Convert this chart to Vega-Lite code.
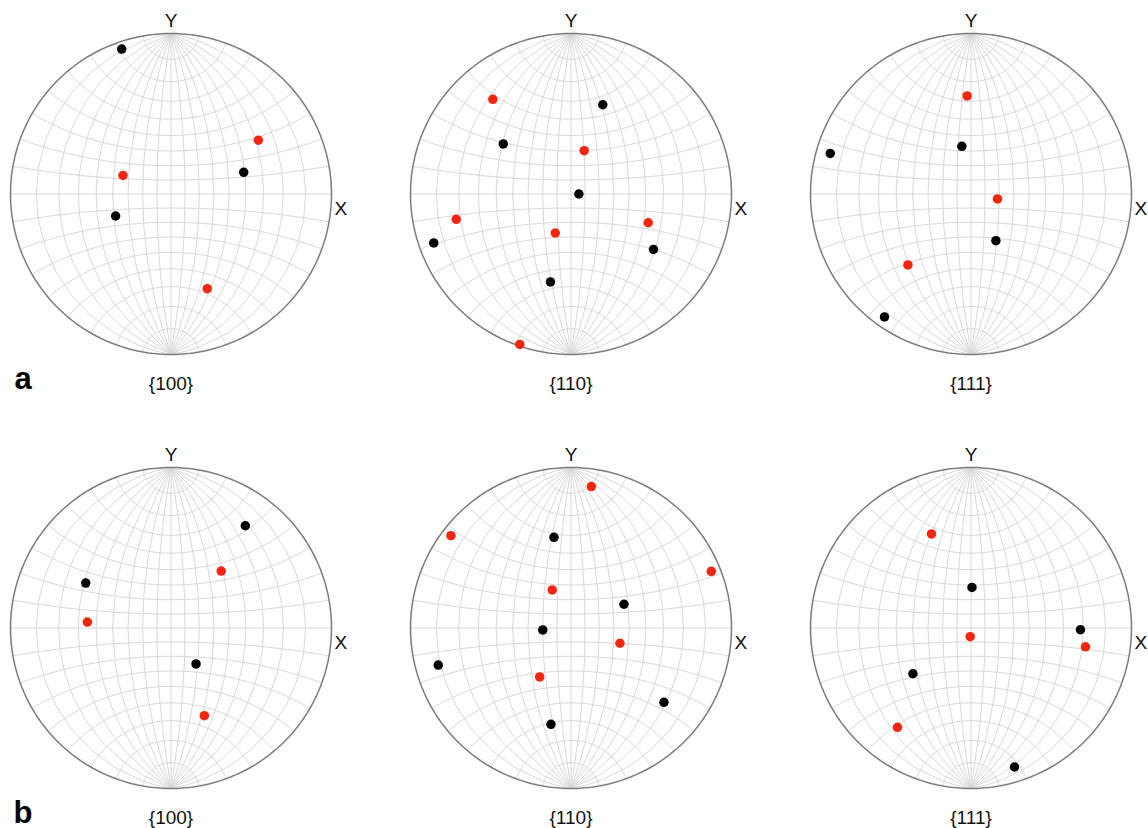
{
  "$schema": "https://vega.github.io/schema/vega-lite/v6.json",
  "background": "white",
  "padding": {"left": 7.5, "top": 11.5, "right": 0, "bottom": 0},
  "config": {"view": {"stroke": null}, "font": "Liberation Sans"},
  "datasets": {
    "points": [
      {"panel": "a100", "x": -0.307, "y": 0.903, "phase": "black"},
      {"panel": "a100", "x": 0.544, "y": 0.335, "phase": "red"},
      {"panel": "a100", "x": 0.453, "y": 0.135, "phase": "black"},
      {"panel": "a100", "x": -0.299, "y": 0.116, "phase": "red"},
      {"panel": "a100", "x": -0.345, "y": -0.137, "phase": "black"},
      {"panel": "a100", "x": 0.226, "y": -0.59, "phase": "red"},
      {"panel": "a110", "x": -0.487, "y": 0.59, "phase": "red"},
      {"panel": "a110", "x": 0.198, "y": 0.556, "phase": "black"},
      {"panel": "a110", "x": -0.422, "y": 0.312, "phase": "black"},
      {"panel": "a110", "x": 0.082, "y": 0.27, "phase": "red"},
      {"panel": "a110", "x": 0.049, "y": 0.0, "phase": "black"},
      {"panel": "a110", "x": -0.715, "y": -0.158, "phase": "red"},
      {"panel": "a110", "x": 0.481, "y": -0.179, "phase": "red"},
      {"panel": "a110", "x": -0.098, "y": -0.243, "phase": "red"},
      {"panel": "a110", "x": -0.855, "y": -0.305, "phase": "black"},
      {"panel": "a110", "x": 0.514, "y": -0.345, "phase": "black"},
      {"panel": "a110", "x": -0.128, "y": -0.548, "phase": "black"},
      {"panel": "a110", "x": -0.319, "y": -0.937, "phase": "red"},
      {"panel": "a111", "x": -0.024, "y": 0.611, "phase": "red"},
      {"panel": "a111", "x": -0.877, "y": 0.253, "phase": "black"},
      {"panel": "a111", "x": -0.057, "y": 0.297, "phase": "black"},
      {"panel": "a111", "x": 0.165, "y": -0.031, "phase": "red"},
      {"panel": "a111", "x": 0.155, "y": -0.291, "phase": "black"},
      {"panel": "a111", "x": -0.393, "y": -0.442, "phase": "red"},
      {"panel": "a111", "x": -0.539, "y": -0.766, "phase": "black"},
      {"panel": "b100", "x": 0.463, "y": 0.637, "phase": "black"},
      {"panel": "b100", "x": 0.313, "y": 0.355, "phase": "red"},
      {"panel": "b100", "x": -0.531, "y": 0.28, "phase": "black"},
      {"panel": "b100", "x": -0.521, "y": 0.037, "phase": "red"},
      {"panel": "b100", "x": 0.156, "y": -0.224, "phase": "black"},
      {"panel": "b100", "x": 0.208, "y": -0.546, "phase": "red"},
      {"panel": "b110", "x": 0.127, "y": 0.881, "phase": "red"},
      {"panel": "b110", "x": -0.748, "y": 0.575, "phase": "red"},
      {"panel": "b110", "x": -0.106, "y": 0.565, "phase": "black"},
      {"panel": "b110", "x": 0.874, "y": 0.353, "phase": "red"},
      {"panel": "b110", "x": -0.117, "y": 0.237, "phase": "red"},
      {"panel": "b110", "x": 0.33, "y": 0.148, "phase": "black"},
      {"panel": "b110", "x": -0.176, "y": -0.012, "phase": "black"},
      {"panel": "b110", "x": 0.305, "y": -0.095, "phase": "red"},
      {"panel": "b110", "x": -0.827, "y": -0.231, "phase": "black"},
      {"panel": "b110", "x": -0.195, "y": -0.305, "phase": "red"},
      {"panel": "b110", "x": 0.579, "y": -0.463, "phase": "black"},
      {"panel": "b110", "x": -0.125, "y": -0.6, "phase": "black"},
      {"panel": "b111", "x": -0.246, "y": 0.586, "phase": "red"},
      {"panel": "b111", "x": 0.006, "y": 0.253, "phase": "black"},
      {"panel": "b111", "x": 0.682, "y": -0.011, "phase": "black"},
      {"panel": "b111", "x": -0.005, "y": -0.054, "phase": "red"},
      {"panel": "b111", "x": 0.713, "y": -0.117, "phase": "red"},
      {"panel": "b111", "x": -0.362, "y": -0.285, "phase": "black"},
      {"panel": "b111", "x": -0.458, "y": -0.619, "phase": "red"},
      {"panel": "b111", "x": 0.271, "y": -0.866, "phase": "black"}
    ],
    "labels": [
      {"panel": "a100", "kind": "Y", "text": "Y", "x": 0, "y": 1},
      {"panel": "a100", "kind": "X", "text": "X", "x": 1, "y": 0},
      {"panel": "a100", "kind": "cap", "text": "{100}", "x": 0, "y": -1},
      {"panel": "a100", "kind": "row", "text": "a", "x": -1, "y": -1},
      {"panel": "a110", "kind": "Y", "text": "Y", "x": 0, "y": 1},
      {"panel": "a110", "kind": "X", "text": "X", "x": 1, "y": 0},
      {"panel": "a110", "kind": "cap", "text": "{110}", "x": 0, "y": -1},
      {"panel": "a111", "kind": "Y", "text": "Y", "x": 0, "y": 1},
      {"panel": "a111", "kind": "X", "text": "X", "x": 1, "y": 0},
      {"panel": "a111", "kind": "cap", "text": "{111}", "x": 0, "y": -1},
      {"panel": "b100", "kind": "Y", "text": "Y", "x": 0, "y": 1},
      {"panel": "b100", "kind": "X", "text": "X", "x": 1, "y": 0},
      {"panel": "b100", "kind": "cap", "text": "{100}", "x": 0, "y": -1},
      {"panel": "b100", "kind": "row", "text": "b", "x": -1, "y": -1},
      {"panel": "b110", "kind": "Y", "text": "Y", "x": 0, "y": 1},
      {"panel": "b110", "kind": "X", "text": "X", "x": 1, "y": 0},
      {"panel": "b110", "kind": "cap", "text": "{110}", "x": 0, "y": -1},
      {"panel": "b111", "kind": "Y", "text": "Y", "x": 0, "y": 1},
      {"panel": "b111", "kind": "X", "text": "X", "x": 1, "y": 0},
      {"panel": "b111", "kind": "cap", "text": "{111}", "x": 0, "y": -1}
    ]
  },
  "columns": 3,
  "spacing": {"row": 113, "column": 79},
  "bounds": "flush",
  "concat": [
    {"width": 321, "height": 321, "layer": [
      {"data": {"graticule": {"extentMinor": [[-180, -89.999], [180, 89.999]], "stepMinor": [10, 10]}}, "projection": {"type": "stereographic", "clipAngle": 90, "rotate": [0, 0, 0]}, "mark": {"type": "geoshape", "filled": false, "stroke": "#d8d8d8", "strokeWidth": 1}},
      {"data": {"sphere": true}, "projection": {"type": "stereographic", "clipAngle": 90, "rotate": [0, 0, 0]}, "mark": {"type": "geoshape", "filled": false, "stroke": "#7c7c7c", "strokeWidth": 1.5}},
      {"data": {"name": "points"}, "transform": [{"filter": "datum.panel === 'a100'"}], "mark": {"type": "circle", "size": 90, "opacity": 1}, "encoding": {"x": {"field": "x", "type": "quantitative", "scale": {"domain": [-1, 1], "nice": false, "zero": false}, "axis": null}, "y": {"field": "y", "type": "quantitative", "scale": {"domain": [-1, 1], "nice": false, "zero": false}, "axis": null}, "color": {"field": "phase", "type": "nominal", "scale": {"domain": ["black", "red"], "range": ["#000000", "#f5260f"]}, "legend": null}}},
      {"data": {"name": "labels"}, "transform": [{"filter": "datum.panel === 'a100' && datum.kind === 'Y'"}], "mark": {"type": "text", "align": "center", "baseline": "alphabetic", "dy": -7, "fontSize": 19, "color": "#111111"}, "encoding": {"x": {"field": "x", "type": "quantitative"}, "y": {"field": "y", "type": "quantitative"}, "text": {"field": "text"}}},
      {"data": {"name": "labels"}, "transform": [{"filter": "datum.panel === 'a100' && datum.kind === 'X'"}], "mark": {"type": "text", "align": "left", "baseline": "middle", "dx": 3, "dy": 15, "fontSize": 19, "color": "#111111"}, "encoding": {"x": {"field": "x", "type": "quantitative"}, "y": {"field": "y", "type": "quantitative"}, "text": {"field": "text"}}},
      {"data": {"name": "labels"}, "transform": [{"filter": "datum.panel === 'a100' && datum.kind === 'cap'"}], "mark": {"type": "text", "align": "center", "baseline": "alphabetic", "dy": 35, "fontSize": 19, "color": "#111111"}, "encoding": {"x": {"field": "x", "type": "quantitative"}, "y": {"field": "y", "type": "quantitative"}, "text": {"field": "text"}}},
      {"data": {"name": "labels"}, "transform": [{"filter": "datum.panel === 'a100' && datum.kind === 'row'"}], "mark": {"type": "text", "align": "left", "baseline": "alphabetic", "dx": 4, "dy": 34, "fontSize": 31, "fontWeight": "bold", "color": "#000000"}, "encoding": {"x": {"field": "x", "type": "quantitative"}, "y": {"field": "y", "type": "quantitative"}, "text": {"field": "text"}}}
    ]},
    {"width": 321, "height": 321, "layer": [
      {"data": {"graticule": {"extentMinor": [[-180, -89.999], [180, 89.999]], "stepMinor": [10, 10]}}, "projection": {"type": "stereographic", "clipAngle": 90, "rotate": [0, 0, 0]}, "mark": {"type": "geoshape", "filled": false, "stroke": "#d8d8d8", "strokeWidth": 1}},
      {"data": {"sphere": true}, "projection": {"type": "stereographic", "clipAngle": 90, "rotate": [0, 0, 0]}, "mark": {"type": "geoshape", "filled": false, "stroke": "#7c7c7c", "strokeWidth": 1.5}},
      {"data": {"name": "points"}, "transform": [{"filter": "datum.panel === 'a110'"}], "mark": {"type": "circle", "size": 90, "opacity": 1}, "encoding": {"x": {"field": "x", "type": "quantitative", "scale": {"domain": [-1, 1], "nice": false, "zero": false}, "axis": null}, "y": {"field": "y", "type": "quantitative", "scale": {"domain": [-1, 1], "nice": false, "zero": false}, "axis": null}, "color": {"field": "phase", "type": "nominal", "scale": {"domain": ["black", "red"], "range": ["#000000", "#f5260f"]}, "legend": null}}},
      {"data": {"name": "labels"}, "transform": [{"filter": "datum.panel === 'a110' && datum.kind === 'Y'"}], "mark": {"type": "text", "align": "center", "baseline": "alphabetic", "dy": -7, "fontSize": 19, "color": "#111111"}, "encoding": {"x": {"field": "x", "type": "quantitative"}, "y": {"field": "y", "type": "quantitative"}, "text": {"field": "text"}}},
      {"data": {"name": "labels"}, "transform": [{"filter": "datum.panel === 'a110' && datum.kind === 'X'"}], "mark": {"type": "text", "align": "left", "baseline": "middle", "dx": 3, "dy": 15, "fontSize": 19, "color": "#111111"}, "encoding": {"x": {"field": "x", "type": "quantitative"}, "y": {"field": "y", "type": "quantitative"}, "text": {"field": "text"}}},
      {"data": {"name": "labels"}, "transform": [{"filter": "datum.panel === 'a110' && datum.kind === 'cap'"}], "mark": {"type": "text", "align": "center", "baseline": "alphabetic", "dy": 35, "fontSize": 19, "color": "#111111"}, "encoding": {"x": {"field": "x", "type": "quantitative"}, "y": {"field": "y", "type": "quantitative"}, "text": {"field": "text"}}}
    ]},
    {"width": 321, "height": 321, "layer": [
      {"data": {"graticule": {"extentMinor": [[-180, -89.999], [180, 89.999]], "stepMinor": [10, 10]}}, "projection": {"type": "stereographic", "clipAngle": 90, "rotate": [0, 0, 0]}, "mark": {"type": "geoshape", "filled": false, "stroke": "#d8d8d8", "strokeWidth": 1}},
      {"data": {"sphere": true}, "projection": {"type": "stereographic", "clipAngle": 90, "rotate": [0, 0, 0]}, "mark": {"type": "geoshape", "filled": false, "stroke": "#7c7c7c", "strokeWidth": 1.5}},
      {"data": {"name": "points"}, "transform": [{"filter": "datum.panel === 'a111'"}], "mark": {"type": "circle", "size": 90, "opacity": 1}, "encoding": {"x": {"field": "x", "type": "quantitative", "scale": {"domain": [-1, 1], "nice": false, "zero": false}, "axis": null}, "y": {"field": "y", "type": "quantitative", "scale": {"domain": [-1, 1], "nice": false, "zero": false}, "axis": null}, "color": {"field": "phase", "type": "nominal", "scale": {"domain": ["black", "red"], "range": ["#000000", "#f5260f"]}, "legend": null}}},
      {"data": {"name": "labels"}, "transform": [{"filter": "datum.panel === 'a111' && datum.kind === 'Y'"}], "mark": {"type": "text", "align": "center", "baseline": "alphabetic", "dy": -7, "fontSize": 19, "color": "#111111"}, "encoding": {"x": {"field": "x", "type": "quantitative"}, "y": {"field": "y", "type": "quantitative"}, "text": {"field": "text"}}},
      {"data": {"name": "labels"}, "transform": [{"filter": "datum.panel === 'a111' && datum.kind === 'X'"}], "mark": {"type": "text", "align": "left", "baseline": "middle", "dx": 3, "dy": 15, "fontSize": 19, "color": "#111111"}, "encoding": {"x": {"field": "x", "type": "quantitative"}, "y": {"field": "y", "type": "quantitative"}, "text": {"field": "text"}}},
      {"data": {"name": "labels"}, "transform": [{"filter": "datum.panel === 'a111' && datum.kind === 'cap'"}], "mark": {"type": "text", "align": "center", "baseline": "alphabetic", "dy": 35, "fontSize": 19, "color": "#111111"}, "encoding": {"x": {"field": "x", "type": "quantitative"}, "y": {"field": "y", "type": "quantitative"}, "text": {"field": "text"}}}
    ]},
    {"width": 321, "height": 321, "layer": [
      {"data": {"graticule": {"extentMinor": [[-180, -89.999], [180, 89.999]], "stepMinor": [10, 10]}}, "projection": {"type": "stereographic", "clipAngle": 90, "rotate": [0, 0, 0]}, "mark": {"type": "geoshape", "filled": false, "stroke": "#d8d8d8", "strokeWidth": 1}},
      {"data": {"sphere": true}, "projection": {"type": "stereographic", "clipAngle": 90, "rotate": [0, 0, 0]}, "mark": {"type": "geoshape", "filled": false, "stroke": "#7c7c7c", "strokeWidth": 1.5}},
      {"data": {"name": "points"}, "transform": [{"filter": "datum.panel === 'b100'"}], "mark": {"type": "circle", "size": 90, "opacity": 1}, "encoding": {"x": {"field": "x", "type": "quantitative", "scale": {"domain": [-1, 1], "nice": false, "zero": false}, "axis": null}, "y": {"field": "y", "type": "quantitative", "scale": {"domain": [-1, 1], "nice": false, "zero": false}, "axis": null}, "color": {"field": "phase", "type": "nominal", "scale": {"domain": ["black", "red"], "range": ["#000000", "#f5260f"]}, "legend": null}}},
      {"data": {"name": "labels"}, "transform": [{"filter": "datum.panel === 'b100' && datum.kind === 'Y'"}], "mark": {"type": "text", "align": "center", "baseline": "alphabetic", "dy": -7, "fontSize": 19, "color": "#111111"}, "encoding": {"x": {"field": "x", "type": "quantitative"}, "y": {"field": "y", "type": "quantitative"}, "text": {"field": "text"}}},
      {"data": {"name": "labels"}, "transform": [{"filter": "datum.panel === 'b100' && datum.kind === 'X'"}], "mark": {"type": "text", "align": "left", "baseline": "middle", "dx": 3, "dy": 15, "fontSize": 19, "color": "#111111"}, "encoding": {"x": {"field": "x", "type": "quantitative"}, "y": {"field": "y", "type": "quantitative"}, "text": {"field": "text"}}},
      {"data": {"name": "labels"}, "transform": [{"filter": "datum.panel === 'b100' && datum.kind === 'cap'"}], "mark": {"type": "text", "align": "center", "baseline": "alphabetic", "dy": 35, "fontSize": 19, "color": "#111111"}, "encoding": {"x": {"field": "x", "type": "quantitative"}, "y": {"field": "y", "type": "quantitative"}, "text": {"field": "text"}}},
      {"data": {"name": "labels"}, "transform": [{"filter": "datum.panel === 'b100' && datum.kind === 'row'"}], "mark": {"type": "text", "align": "left", "baseline": "alphabetic", "dx": 3, "dy": 34, "fontSize": 31, "fontWeight": "bold", "color": "#000000"}, "encoding": {"x": {"field": "x", "type": "quantitative"}, "y": {"field": "y", "type": "quantitative"}, "text": {"field": "text"}}}
    ]},
    {"width": 321, "height": 321, "layer": [
      {"data": {"graticule": {"extentMinor": [[-180, -89.999], [180, 89.999]], "stepMinor": [10, 10]}}, "projection": {"type": "stereographic", "clipAngle": 90, "rotate": [0, 0, 0]}, "mark": {"type": "geoshape", "filled": false, "stroke": "#d8d8d8", "strokeWidth": 1}},
      {"data": {"sphere": true}, "projection": {"type": "stereographic", "clipAngle": 90, "rotate": [0, 0, 0]}, "mark": {"type": "geoshape", "filled": false, "stroke": "#7c7c7c", "strokeWidth": 1.5}},
      {"data": {"name": "points"}, "transform": [{"filter": "datum.panel === 'b110'"}], "mark": {"type": "circle", "size": 90, "opacity": 1}, "encoding": {"x": {"field": "x", "type": "quantitative", "scale": {"domain": [-1, 1], "nice": false, "zero": false}, "axis": null}, "y": {"field": "y", "type": "quantitative", "scale": {"domain": [-1, 1], "nice": false, "zero": false}, "axis": null}, "color": {"field": "phase", "type": "nominal", "scale": {"domain": ["black", "red"], "range": ["#000000", "#f5260f"]}, "legend": null}}},
      {"data": {"name": "labels"}, "transform": [{"filter": "datum.panel === 'b110' && datum.kind === 'Y'"}], "mark": {"type": "text", "align": "center", "baseline": "alphabetic", "dy": -7, "fontSize": 19, "color": "#111111"}, "encoding": {"x": {"field": "x", "type": "quantitative"}, "y": {"field": "y", "type": "quantitative"}, "text": {"field": "text"}}},
      {"data": {"name": "labels"}, "transform": [{"filter": "datum.panel === 'b110' && datum.kind === 'X'"}], "mark": {"type": "text", "align": "left", "baseline": "middle", "dx": 3, "dy": 15, "fontSize": 19, "color": "#111111"}, "encoding": {"x": {"field": "x", "type": "quantitative"}, "y": {"field": "y", "type": "quantitative"}, "text": {"field": "text"}}},
      {"data": {"name": "labels"}, "transform": [{"filter": "datum.panel === 'b110' && datum.kind === 'cap'"}], "mark": {"type": "text", "align": "center", "baseline": "alphabetic", "dy": 35, "fontSize": 19, "color": "#111111"}, "encoding": {"x": {"field": "x", "type": "quantitative"}, "y": {"field": "y", "type": "quantitative"}, "text": {"field": "text"}}}
    ]},
    {"width": 321, "height": 321, "layer": [
      {"data": {"graticule": {"extentMinor": [[-180, -89.999], [180, 89.999]], "stepMinor": [10, 10]}}, "projection": {"type": "stereographic", "clipAngle": 90, "rotate": [0, 0, 0]}, "mark": {"type": "geoshape", "filled": false, "stroke": "#d8d8d8", "strokeWidth": 1}},
      {"data": {"sphere": true}, "projection": {"type": "stereographic", "clipAngle": 90, "rotate": [0, 0, 0]}, "mark": {"type": "geoshape", "filled": false, "stroke": "#7c7c7c", "strokeWidth": 1.5}},
      {"data": {"name": "points"}, "transform": [{"filter": "datum.panel === 'b111'"}], "mark": {"type": "circle", "size": 90, "opacity": 1}, "encoding": {"x": {"field": "x", "type": "quantitative", "scale": {"domain": [-1, 1], "nice": false, "zero": false}, "axis": null}, "y": {"field": "y", "type": "quantitative", "scale": {"domain": [-1, 1], "nice": false, "zero": false}, "axis": null}, "color": {"field": "phase", "type": "nominal", "scale": {"domain": ["black", "red"], "range": ["#000000", "#f5260f"]}, "legend": null}}},
      {"data": {"name": "labels"}, "transform": [{"filter": "datum.panel === 'b111' && datum.kind === 'Y'"}], "mark": {"type": "text", "align": "center", "baseline": "alphabetic", "dy": -7, "fontSize": 19, "color": "#111111"}, "encoding": {"x": {"field": "x", "type": "quantitative"}, "y": {"field": "y", "type": "quantitative"}, "text": {"field": "text"}}},
      {"data": {"name": "labels"}, "transform": [{"filter": "datum.panel === 'b111' && datum.kind === 'X'"}], "mark": {"type": "text", "align": "left", "baseline": "middle", "dx": 3, "dy": 15, "fontSize": 19, "color": "#111111"}, "encoding": {"x": {"field": "x", "type": "quantitative"}, "y": {"field": "y", "type": "quantitative"}, "text": {"field": "text"}}},
      {"data": {"name": "labels"}, "transform": [{"filter": "datum.panel === 'b111' && datum.kind === 'cap'"}], "mark": {"type": "text", "align": "center", "baseline": "alphabetic", "dy": 35, "fontSize": 19, "color": "#111111"}, "encoding": {"x": {"field": "x", "type": "quantitative"}, "y": {"field": "y", "type": "quantitative"}, "text": {"field": "text"}}}
    ]}
  ]
}
